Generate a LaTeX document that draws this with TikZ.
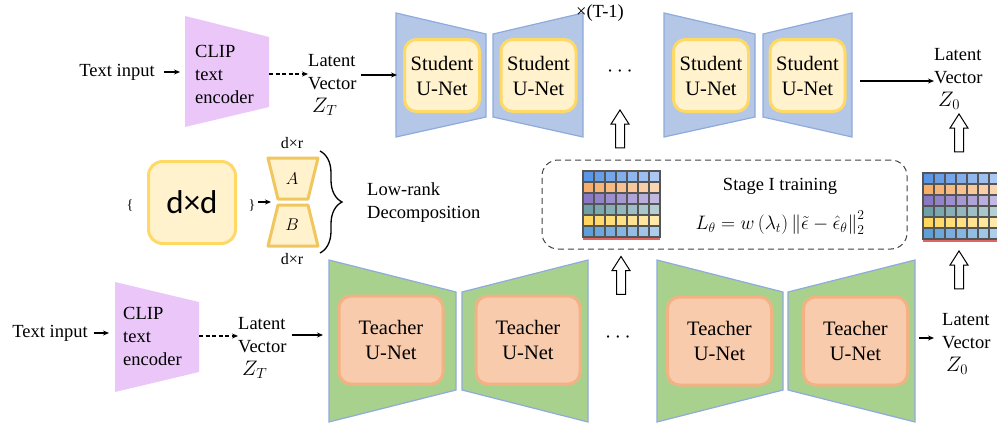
\RequirePackage{fix-cm}
\documentclass[tikz,border=0pt]{standalone}
\usepackage{fontspec}
\setmainfont{Liberation Serif}
\newfontfamily\ddfont{Carlito}
\usetikzlibrary{arrows.meta,shapes.arrows,decorations.pathreplacing}

\definecolor{clipviolet}{HTML}{EBC7F9}
\definecolor{stublue}{HTML}{B4C7E7}
\definecolor{edgeblue}{HTML}{8FAADC}
\definecolor{unetyellow}{HTML}{FFF2CC}
\definecolor{unetgold}{HTML}{FFD966}
\definecolor{hourgold}{HTML}{F0C75E}
\definecolor{teagreen}{HTML}{A9D18E}
\definecolor{teaorange}{HTML}{F8CBAD}
\definecolor{teaedge}{HTML}{F4B183}
\definecolor{gridgray}{HTML}{555555}
\definecolor{gblue}{HTML}{5B95E6}
\definecolor{gorange}{HTML}{F6AE6A}
\definecolor{gpurple}{HTML}{8A78C4}
\definecolor{gteal}{HTML}{6FA0A8}
\definecolor{gyellow}{HTML}{FFD65E}
\definecolor{gsky}{HTML}{5F9FD8}
\definecolor{gred}{HTML}{E06666}

\begin{document}
\begin{tikzpicture}[x=1pt, y=-1pt, >={Stealth[length=6pt,width=5pt]},
  lbl/.style={font=\fontsize{18.5}{23}\selectfont, inner sep=0pt, align=left},
  unet/.style={rounded corners=12pt, line width=3pt, align=center, font=\fontsize{20.5}{25}\selectfont},
  stubox/.style={unet, fill=unetyellow, draw=unetgold, minimum width=75pt, minimum height=72pt},
  teabox/.style={unet, fill=teaorange, draw=teaedge, minimum width=104pt, minimum height=88pt},
  stutrap/.style={fill=stublue, draw=edgeblue, line width=1.2pt},
  teatrap/.style={fill=teagreen, draw=edgeblue, line width=1.2pt},
  hollow/.style={single arrow, draw, line width=1pt, shape border rotate=90, minimum height=38pt, inner sep=4pt, single arrow head extend=4.5pt, single arrow tip angle=65},
  link/.style={->, line width=1.3pt},
  dlink/.style={link, dash pattern=on 4pt off 2.5pt}]
\useasboundingbox (0,0) rectangle (997,423);

% Ramo de cima (student)
\fill[clipviolet] (185,16) -- (269,37) -- (269,107) -- (185,127) -- cycle;
\coordinate (c1in) at (185,72);
\coordinate (c1out) at (269,74);
\node[lbl] (txt1) at (117,72) {Text input};
\node[lbl, anchor=west] (clip1) at (195,74) {CLIP\\text\\encoder};
\node[lbl, anchor=west] (lat1) at (308,85) {Latent\\Vector\\\hspace*{4pt}{\fontsize{21}{23}\selectfont$Z_T$}};

\draw[stutrap] (396,13) -- (486,34) -- (486,117) -- (396,137) -- cycle;
\draw[stutrap] (493,34) -- (583,13) -- (583,137) -- (493,117) -- cycle;
\draw[stutrap] (664,13) -- (755,34) -- (755,117) -- (664,137) -- cycle;
\draw[stutrap] (763,34) -- (852,13) -- (852,137) -- (763,117) -- cycle;
\coordinate (s1in) at (397,75);
\coordinate (s4out) at (860,81);
\node[stubox] (s1) at (442,75.5) {Student\\U-Net};
\node[stubox] (s2) at (538.5,75.5) {Student\\U-Net};
\node[stubox] (s3) at (711,75.5) {Student\\U-Net};
\node[stubox] (s4) at (807.5,75.5) {Student\\U-Net};
\node[lbl, font=\fontsize{22}{24}\selectfont] (dots1) at (620,72) {$\cdots$};
\node[lbl] (rep) at (600,13) {×(T-1)};
\node[lbl, anchor=west] (lat3) at (934,79) {Latent\\Vector\\\hspace*{4pt}{\fontsize{21}{23}\selectfont$Z_0$}};

\draw[link] (txt1.east) ++(9,0) -- ([xshift=-5pt]c1in);
\draw[dlink] (c1out) -- (lat1.west |- c1out);
\draw[link] (lat1.east |- s1in) ++(4,0) -- (s1in);
\draw[link] (s4out) -- (lat3.west |- s4out);

% Bloco do meio
\node[lbl, font=\fontsize{14}{16}\selectfont] (lbr) at (130,206) {\{};
\node[draw=unetgold, fill=unetyellow, line width=3pt, rounded corners=14pt, minimum width=87pt, minimum height=82pt, font=\ddfont\fontsize{33}{36}\selectfont] (dd) at (192,202.5) {d×d};
\node[lbl, font=\fontsize{14}{16}\selectfont] (rbr) at (252,206) {\}};
\draw[hourgold, fill=unetyellow, line width=3pt, line join=round] (268,158) -- (318,158) -- (308,199) -- (278,199) -- cycle;
\draw[hourgold, fill=unetyellow, line width=3pt, line join=round] (278,205) -- (308,205) -- (318,246) -- (268,246) -- cycle;
\coordinate (waist) at (271,202);
\node[lbl, font=\fontsize{17}{20}\selectfont] (la) at (292,179) {$A$};
\node[lbl, font=\fontsize{17}{20}\selectfont] (lb) at (292,225) {$B$};
\node[lbl, font=\fontsize{16}{19}\selectfont] (dr1) at (292,143) {d×r};
\node[lbl, font=\fontsize{16}{19}\selectfont] (dr2) at (292,259) {d×r};
\draw[link, line width=1.2pt] (rbr.east) ++(2,-4) -- (waist);
\draw[line width=1.3pt, decorate, decoration={brace, amplitude=22pt}] (320,151) -- (320,253);
\node[lbl, anchor=west] (lowrank) at (367,203) {Low-rank\\Decomposition};

% Stage I
\node[draw=black!75, line width=1pt, dash pattern=on 6pt off 4pt, rounded corners=16pt, minimum width=365pt, minimum height=89pt] (stage) at (724.5,204.5) {};
\foreach \gx/\gy in {583/171, 923/173}{
  \begin{scope}
    \clip (0,0) rectangle (997,423);
    \foreach \row/\col in {0/gblue, 1/gorange, 2/gpurple, 3/gteal, 4/gyellow, 5/gsky}{
      \foreach \i in {0,...,6}{
        \pgfmathtruncatemacro{\p}{100-8*\i}
        \filldraw[fill=\col!\p!white, draw=gridgray, line width=1.2pt] (\gx+11*\i,\gy+11*\row) rectangle ++(11,11);
      }
    }
    \fill[gred] (\gx,\gy+66.6) rectangle ++(77,2);
  \end{scope}
}
\node[lbl] (stagetxt) at (780,186) {Stage I training};
\node[lbl, font=\fontsize{19.5}{22}\selectfont] (loss) at (780,223) {$L_\theta = w\left(\lambda_t\right)\left\|\tilde{\epsilon}-\hat{\epsilon}_\theta\right\|_2^2$};

% Setas ocas
\node[hollow] (up1) at (620,132.5) {};
\node[hollow] (up2) at (959,136.5) {};
\node[hollow] (up3) at (621,279) {};
\node[hollow] (up4) at (959,273.5) {};

% Ramo de baixo (teacher)
\fill[clipviolet] (115,282) -- (199,302) -- (199,372) -- (115,392) -- cycle;
\coordinate (c2in) at (115,333);
\coordinate (c2out) at (199,336);
\node[lbl] (txt2) at (50,333) {Text input};
\node[lbl, anchor=west] (clip2) at (123,336) {CLIP\\text\\encoder};
\node[lbl, anchor=west] (lat2) at (238,348) {Latent\\Vector\\\hspace*{4pt}{\fontsize{21}{23}\selectfont$Z_T$}};

\draw[teatrap] (329,260) -- (456,292) -- (456,390) -- (329,422) -- cycle;
\draw[teatrap] (462,292) -- (588,260) -- (588,422) -- (462,390) -- cycle;
\draw[teatrap] (657,260) -- (783,292) -- (783,390) -- (657,422) -- cycle;
\draw[teatrap] (788,292) -- (915,260) -- (915,422) -- (788,390) -- cycle;
\coordinate (t1in) at (323,335);
\coordinate (t4out) at (919,338);
\node[teabox] (t1) at (391,340) {Teacher\\U-Net};
\node[teabox] (t2) at (528,340) {Teacher\\U-Net};
\node[teabox] (t3) at (719.5,341) {Teacher\\U-Net};
\node[teabox] (t4) at (855.5,341) {Teacher\\U-Net};
\node[lbl, font=\fontsize{22}{24}\selectfont] (dots2) at (618,338) {$\cdots$};
\node[lbl, anchor=west] (lat4) at (942,344) {Latent\\Vector\\\hspace*{4pt}{\fontsize{21}{23}\selectfont$Z_0$}};

\draw[link] (txt2.east) ++(6,0) -- ([xshift=-6pt]c2in);
\draw[dlink] (c2out) -- (lat2.west |- c2out);
\draw[link] (lat2.east |- t1in) ++(5,0) -- (t1in);
\draw[link, line width=1.2pt] (t4out) -- ([xshift=-8pt]lat4.west |- t4out);
\end{tikzpicture}
\end{document}
